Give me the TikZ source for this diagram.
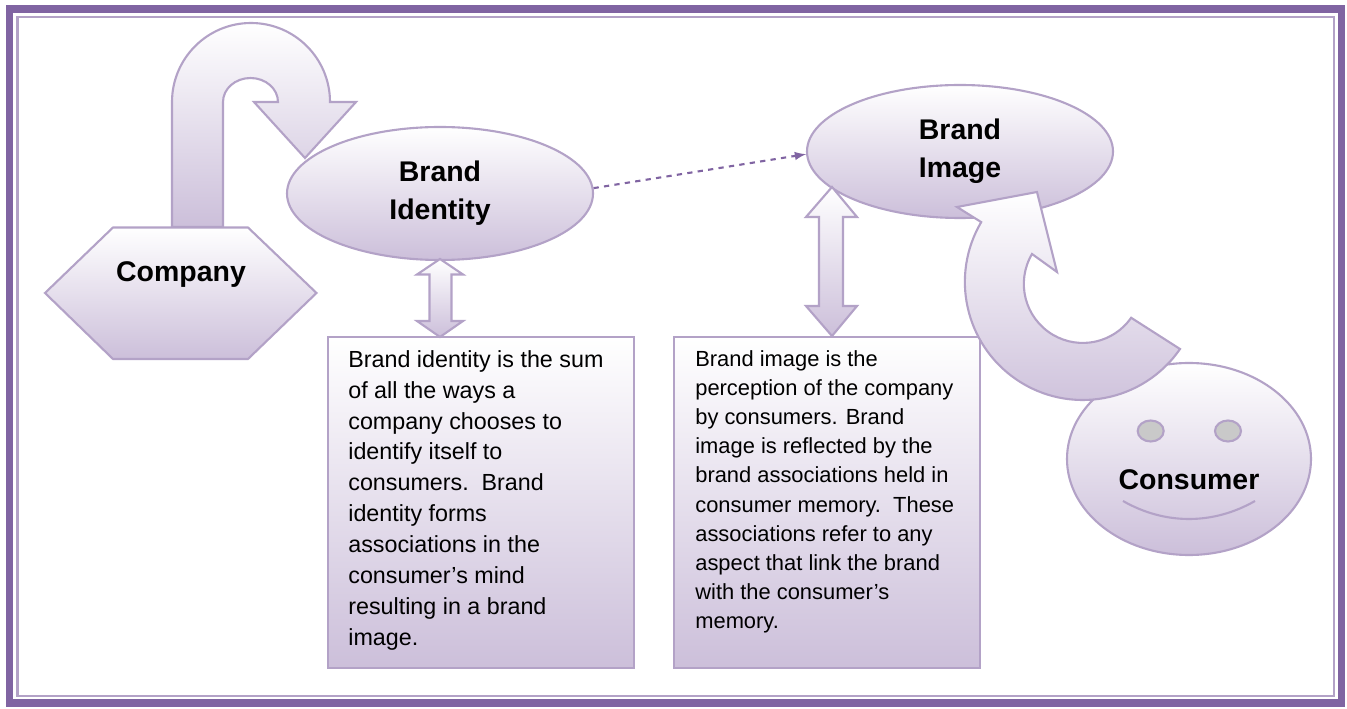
\documentclass[tikz,border=0pt]{standalone}
\usepackage{fontspec}
\setmainfont{Liberation Sans}
\usetikzlibrary{arrows}
\usetikzlibrary{shapes.geometric}
\definecolor{framepurple}{HTML}{8064A2}
\definecolor{linepurple}{HTML}{B3A2C7}
\definecolor{fillpurple}{HTML}{CCBFDA}
\definecolor{eyegrey}{HTML}{C9C9C9}
\tikzset{
  shapefill/.style={draw=linepurple, line width=1.2pt, top color=white, bottom color=fillpurple},
  brandnode/.style={ellipse, shapefill, minimum width=306*0.02cm, minimum height=133*0.02cm, inner sep=0pt, align=center, font=\fontsize{16.2}{21.5}\selectfont\bfseries},
  boxnode/.style={rectangle, shapefill, minimum width=306*0.02cm, minimum height=331*0.02cm, inner sep=0pt},
  bodytext/.style={anchor=north west, inner sep=0pt, align=left},
  label/.style={font=\fontsize{16.2}{21.5}\selectfont\bfseries}
}

\begin{document}
\begin{tikzpicture}[x=0.02cm,y=-0.02cm]
  \useasboundingbox (0,0) rectangle (1347,709);
  % draw the frame
  \draw[framepurple, line width=4.2pt] (9.5,9) rectangle (1341.5,703);
  \draw[linepurple, line width=1.2pt] (17.5,17) rectangle (1334,696);
  % draw the curved arrow from the company
  \shade[shapefill] (172,227) -- (172,102) arc[start angle=180, end angle=360, x radius=79, y radius=79]
    -- (356,102) -- (305,158) -- (254,102) -- (278,102)
    arc[start angle=0, end angle=-180, x radius=27.5, y radius=24] -- (223,227) -- cycle;
  % draw the company
  \shade[shapefill] (45,293) -- (113,227.5) -- (248,227.5) -- (316.5,293) -- (248,359) -- (113,359) -- cycle;
  \node[label] (company) at (181,275) {Company};
  % draw the ellipses
  \node[brandnode] (identity) at (440,193.5) {Brand\\Identity};
  \node[brandnode] (image) at (960,151.5) {Brand\\Image};
  \draw[framepurple, line width=1.2pt, dashed, -latex] (identity.2.4) -- (image.181);
  % draw the text boxes
  \node[boxnode] (identitybox) at (481,502.5) {};
  \node[boxnode] (imagebox) at (827,502.5) {};
  \node[bodytext, font=\fontsize{13.26}{17.6}\selectfont] (identitytext) at (348,350) {Brand identity is the sum\\of all the ways a\\company chooses to\\identify itself to\\consumers.~~Brand\\identity forms\\associations in the\\consumer’s mind\\resulting in a brand\\image.};
  \node[bodytext, font=\fontsize{12.46}{16.6}\selectfont] (imagetext) at (695,350) {Brand image is the\\perception of the company\\by consumers. Brand\\image is reflected by the\\brand associations held in\\consumer memory.~~These\\associations refer to any\\aspect that link the brand\\with the consumer’s\\memory.};
  % draw the double arrows
  \shade[shapefill] (440,259) -- (463,274.5) -- (451.5,274.5) -- (451.5,321) -- (463,321) -- (440,337)
    -- (417,321) -- (429.5,321) -- (429.5,274.5) -- (417,274.5) -- cycle;
  \shade[shapefill] (832,187) -- (857,217) -- (843,217) -- (843,306) -- (857,306) -- (832,336)
    -- (806,306) -- (819,306) -- (819,217) -- (806,217) -- cycle;
  % draw the consumer
  \node[ellipse, shapefill, minimum width=244*0.02cm, minimum height=192*0.02cm, inner sep=0pt] (consumer) at (1189,459) {};
  \node[ellipse, draw=linepurple, line width=1.2pt, fill=eyegrey, minimum width=26*0.02cm, minimum height=21*0.02cm, inner sep=0pt] (lefteye) at (1150.7,431) {};
  \node[ellipse, draw=linepurple, line width=1.2pt, fill=eyegrey, minimum width=26*0.02cm, minimum height=21*0.02cm, inner sep=0pt] (righteye) at (1228,431) {};
  \draw[linepurple, line width=1.2pt] (1123,501) .. controls (1165,525) and (1213,525) .. (1255,501);
  \node[label] (consumerlabel) at (1189,480) {Consumer};
  % draw the arrow from the consumer
  \shade[shapefill] (1180,349) arc[start angle=34.6, end angle=210.5, radius=118]
    -- (957,207) -- (1037,192) -- (1057,272) -- (1032,254)
    arc[start angle=210.5, end angle=35, radius=59] -- cycle;
\end{tikzpicture}
\end{document}
